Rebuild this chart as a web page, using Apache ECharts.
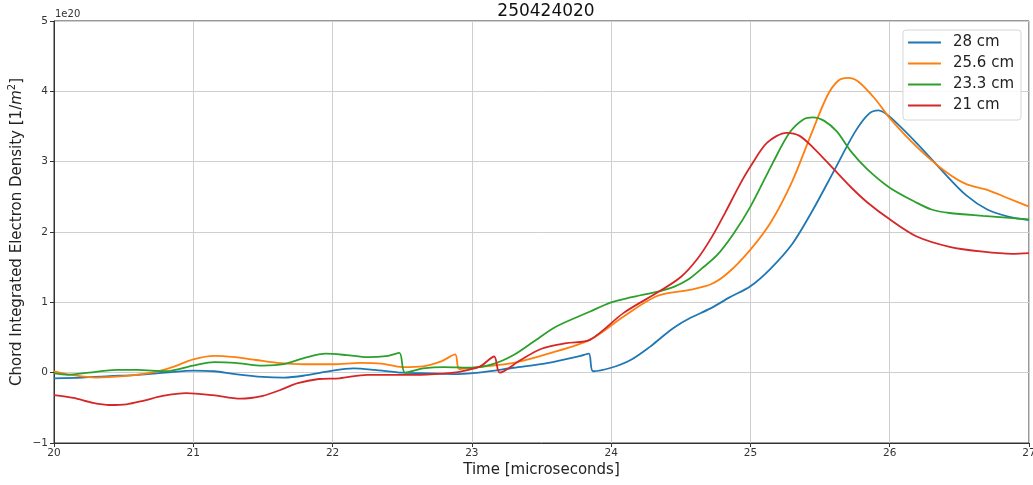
<!DOCTYPE html>
<html>
<head>
<meta charset="utf-8">
<script src="https://cdn.jsdelivr.net/npm/echarts@6/dist/echarts.min.js"></script>
<style>
  html, body { margin: 0; padding: 0; background: #fff; }
  #chart { width: 1033px; height: 485px; }
</style>
</head>
<body>
<div id="chart"></div>
<script>
// Shot 250424020: chord-integrated electron density (units of 1e20 m^-2) vs time [µs]
const shotTitle = '250424020';
const seriesNames = ['28 cm', '25.6 cm', '23.3 cm', '21 cm'];
const seriesColors = ['#1f77b4', '#ff7f0e', '#2ca02c', '#d62728'];
const yTickLabels = { '-1': '\u22121', '0': '0', '1': '1', '2': '2', '3': '3', '4': '4', '5': '5' };

const chord28 = [
  [20.0,-0.08],[20.2,-0.07],[20.4,-0.05],[20.6,-0.03],[20.8,0.0],[21.0,0.03],[21.15,0.02],
  [21.3,-0.02],[21.5,-0.06],[21.65,-0.07],[21.8,-0.04],[22.0,0.03],[22.15,0.06],[22.3,0.04],
  [22.5,0.0],[22.7,-0.01],[22.9,-0.02],[23.05,0.0],[23.3,0.07],[23.55,0.14],[23.78,0.24],
  [23.84,0.27],[23.87,0.02],[24.0,0.07],[24.14,0.18],[24.28,0.37],[24.36,0.5],[24.45,0.64],
  [24.57,0.78],[24.71,0.91],[24.85,1.07],[25.0,1.23],[25.14,1.47],[25.3,1.83],[25.45,2.32],
  [25.6,2.87],[25.75,3.42],[25.85,3.68],[25.92,3.73],[26.0,3.64],[26.2,3.25],[26.4,2.82],
  [26.55,2.52],[26.7,2.32],[26.85,2.22],[27.0,2.17]
];
const chord25_6 = [
  [20.0,0.02],[20.15,-0.04],[20.3,-0.07],[20.5,-0.05],[20.7,0.0],[20.85,0.08],[21.0,0.19],
  [21.15,0.24],[21.3,0.22],[21.45,0.18],[21.6,0.14],[21.8,0.12],[22.0,0.12],[22.2,0.14],
  [22.35,0.13],[22.5,0.08],[22.65,0.09],[22.78,0.16],[22.88,0.26],[22.91,0.05],[23.05,0.08],
  [23.3,0.14],[23.55,0.27],[23.85,0.47],[24.09,0.8],[24.33,1.09],[24.57,1.18],
  [24.72,1.26],[24.84,1.42],[25.0,1.75],[25.15,2.15],[25.3,2.72],[25.43,3.36],
  [25.55,3.93],[25.63,4.15],[25.7,4.19],[25.78,4.13],[25.9,3.88],[26.0,3.62],[26.2,3.2],
  [26.4,2.86],[26.55,2.68],[26.7,2.6],[26.85,2.48],[27.0,2.36]
];
const chord23_3 = [
  [20.0,-0.01],[20.1,-0.03],[20.25,0.0],[20.45,0.04],[20.6,0.04],[20.8,0.02],[21.0,0.1],
  [21.15,0.15],[21.3,0.14],[21.5,0.1],[21.65,0.12],[21.8,0.21],[21.95,0.27],[22.1,0.25],
  [22.25,0.22],[22.4,0.24],[22.48,0.28],[22.52,0.0],[22.65,0.06],[22.8,0.08],[23.0,0.07],
  [23.15,0.12],[23.3,0.25],[23.45,0.45],[23.6,0.65],[23.85,0.87],[24.0,1.0],[24.14,1.07],
  [24.35,1.16],[24.45,1.22],[24.55,1.32],[24.65,1.48],[24.76,1.67],[24.88,1.98],[25.0,2.36],
  [25.16,2.98],[25.28,3.41],[25.38,3.6],[25.45,3.63],[25.53,3.58],[25.62,3.43],[25.72,3.15],
  [25.84,2.89],[26.0,2.63],[26.19,2.42],[26.3,2.32],[26.43,2.27],[26.67,2.23],[27.0,2.18]
];
const chord21 = [
  [20.0,-0.32],[20.14,-0.36],[20.28,-0.43],[20.4,-0.46],[20.52,-0.45],[20.64,-0.4],[20.78,-0.33],
  [20.95,-0.29],[21.14,-0.32],[21.34,-0.37],[21.5,-0.33],[21.62,-0.25],[21.75,-0.15],[21.9,-0.09],
  [22.05,-0.08],[22.25,-0.03],[22.45,-0.03],[22.63,-0.03],[22.87,0.0],[22.95,0.03],[23.06,0.09],
  [23.16,0.23],[23.2,0.0],[23.35,0.18],[23.5,0.34],[23.68,0.42],[23.85,0.47],[24.09,0.85],
  [24.35,1.16],[24.5,1.36],[24.62,1.62],[24.72,1.92],[24.82,2.28],[24.92,2.66],[25.0,2.93],
  [25.12,3.27],[25.26,3.41],[25.35,3.37],[25.45,3.2],[25.6,2.89],[25.72,2.64],[25.84,2.42],
  [26.0,2.18],[26.19,1.94],[26.43,1.79],[26.67,1.72],[26.88,1.69],[27.0,1.7]
];
const chordData = [chord28, chord25_6, chord23_3, chord21];

const FONT = 'DejaVu Sans';
const chart = echarts.init(document.getElementById('chart'), null, { renderer: 'canvas' });

const gridLine = { show: true, lineStyle: { color: '#cfcfcf', width: 1 } };

chart.setOption({
  animation: false,
  textStyle: { fontFamily: FONT },
  title: {
    text: shotTitle,
    left: 541, top: -2, textAlign: 'center',
    textStyle: { fontFamily: FONT, fontSize: 17, fontWeight: 'normal', color: '#111' }
  },
  grid: {
    left: 54, right: 4, top: 21, bottom: 42,
    containLabel: false, outerBoundsMode: 'none',
    show: true, borderColor: '#333', borderWidth: 1, backgroundColor: 'transparent'
  },
  legend: {
    orient: 'vertical', right: 12, top: 30,
    data: seriesNames,
    icon: 'path://M0,0H33V2H0Z',
    itemWidth: 33, itemHeight: 16, itemGap: 6,
    padding: [5, 7, 7, 5],
    backgroundColor: 'rgba(255,255,255,0.85)',
    borderColor: '#d6d6d6', borderWidth: 1, borderRadius: 3,
    textStyle: { fontFamily: FONT, fontSize: 15, color: '#222', padding: [0, 0, 0, 7] }
  },
  xAxis: {
    type: 'value', min: 20, max: 27, interval: 1,
    name: 'Time [microseconds]', nameLocation: 'middle', nameGap: 20, nameMoveOverlap: false,
    nameTextStyle: { fontFamily: FONT, fontSize: 15, color: '#222' },
    axisLine: { show: true, onZero: false, lineStyle: { color: '#333' } },
    axisTick: { show: true, length: 4, lineStyle: { color: '#333' } },
    axisLabel: { fontFamily: FONT, fontSize: 10.5, color: '#333', margin: 5 },
    splitLine: gridLine
  },
  yAxis: {
    type: 'value', min: -1, max: 5, interval: 1,
    name: 'Chord Integrated Electron Density [1/{i|m}{sup|2}]',
    nameLocation: 'middle', nameGap: 27, nameRotate: 90, nameMoveOverlap: false,
    nameTextStyle: {
      fontFamily: FONT, fontSize: 15, color: '#222', lineHeight: 20,
      rich: {
        i: { fontFamily: FONT, fontSize: 15, fontStyle: 'italic', color: '#222', lineHeight: 20 },
        sup: { fontFamily: FONT, fontSize: 10, color: '#222', lineHeight: 11, verticalAlign: 'top' }
      }
    },
    axisLine: { show: true, onZero: false, lineStyle: { color: '#333' } },
    axisTick: { show: true, length: 4, lineStyle: { color: '#333' } },
    axisLabel: {
      fontFamily: FONT, fontSize: 10.5, color: '#333', margin: 6,
      formatter: v => yTickLabels[String(v)] ?? String(v)
    },
    splitLine: gridLine
  },
  graphic: [{
    type: 'text', left: 55, top: 9,
    style: { text: '1e20', fontFamily: FONT, fontSize: 10, fill: '#333' }
  }],
  series: seriesNames.map((name, i) => ({
    name, type: 'line',
    data: chordData[i],
    showSymbol: false, symbol: 'none',
    smooth: 0.3,
    lineStyle: { color: seriesColors[i], width: 1.8 },
    itemStyle: { color: seriesColors[i] },
    z: 2 + i
  }))
});
</script>
</body>
</html>
